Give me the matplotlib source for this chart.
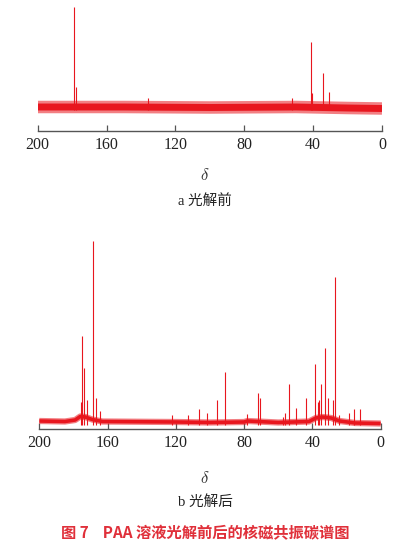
import matplotlib
matplotlib.use("Agg")
import matplotlib.pyplot as plt
import numpy as np

plt.rcParams["mathtext.fontset"] = "cm"

# ---------------- data ----------------
tick_values = [200, 160, 120, 80, 40, 0]
tick_labels = ["200", "160", "120", "80", "40", "0"]

# panel a (before photolysis): baseline level and peak tops (arbitrary intensity)
a_base_ppm = [200, 150, 100, 50, 20, 0]
a_base_lvl = [0.0, 0.0, -0.5, 0.0, -1.0, -1.5]
a_peak_ppm = [178.9, 177.8, 41.1, 40.4, 34.0, 31.0, 136.0, 52.0]
a_peak_top = [100, 20, 65, 14, 34, 15, 9, 9]

# panel b (after photolysis)
b_base_ppm = [200, 185, 179, 176, 173, 169, 163, 120, 100, 80, 78, 60, 42, 38, 34, 29, 24, 15, 0]
b_base_lvl = [1.0, 0.5, 2.0, 5.5, 5.0, 2.5, 0.5, 0.0, -0.5, 0.0, 1.0, -0.5, 0.5, 4.0, 5.0, 4.0, 1.0, -1.0, -1.5]
b_peak_ppm = [175.6, 174.8, 173.6, 171.9, 168.7, 167.0, 164.4, 122.4, 112.7, 106.3,
              101.6, 95.7, 91.0, 78.2, 71.7, 70.5, 57.4, 56.2, 53.6, 49.4,
              43.8, 38.5, 37.0, 36.3, 35.2, 32.9, 30.8, 28.0, 26.8, 24.3,
              18.4, 15.7, 12.2]
b_peak_top = [20, 86, 54, 22, 181, 24, 11, 7, 7, 13,
              9, 22, 50, 8, 29, 24, 5, 9, 38, 14,
              24, 58, 20, 22, 38, 74, 24, 22, 145, 7,
              9, 13, 13]

RED = "#e8161e"
AXC = "#555555"

fig = plt.figure(figsize=(3.93, 5.53), dpi=100)
W, H = 393.0, 553.0


def make_axes(left_px, right_px, top_px, bottom_px):
    return fig.add_axes([left_px / W, 1 - bottom_px / H,
                         (right_px - left_px) / W, (bottom_px - top_px) / H])


def style(ax):
    for s in ["top", "left", "right"]:
        ax.spines[s].set_visible(False)
    ax.spines["bottom"].set_color(AXC)
    ax.spines["bottom"].set_linewidth(1.0)
    ax.set_yticks([])
    ax.set_xlim(200, 0)
    ax.set_xticks(tick_values)
    ax.set_xticklabels(tick_labels, fontfamily="Liberation Serif", fontsize=11.5)
    ax.tick_params(axis="x", direction="in", length=4, width=0.9, color=AXC,
                   pad=4.5, labelcolor="#222222")
    ax.patch.set_alpha(0)


def draw(ax, bppm, blvl, pppm, ptop, band_w, core_w):
    ax.plot(bppm, blvl, color=RED, lw=band_w, alpha=0.55, solid_capstyle="butt")
    ax.plot(bppm, blvl, color=RED, lw=core_w, alpha=1.0, solid_capstyle="butt")
    ax.vlines(pppm, min(blvl) - 1, ptop, color=RED, lw=0.8)


# panel a
axa = make_axes(37.7, 382.0, 4, 131)
draw(axa, a_base_ppm, a_base_lvl, a_peak_ppm, a_peak_top, 9.0, 5.0)
axa.set_ylim(-24, 103)
style(axa)

# panel b
axb = make_axes(39.3, 380.7, 236, 429)
draw(axb, b_base_ppm, b_base_lvl, b_peak_ppm, b_peak_top, 4.5, 2.6)
axb.set_ylim(-7, 186)
style(axb)

fam = ["Liberation Serif", "Noto Sans CJK SC"]
fig.text(205 / W, 1 - 175 / H, r"$\delta$", ha="center", va="center",
         fontsize=12, color="#333333")
fig.text(205 / W, 1 - 201 / H, "a 光解前", ha="center", va="center",
         fontsize=10.5, color="#222222", family=fam)
fig.text(205 / W, 1 - 478 / H, r"$\delta$", ha="center", va="center",
         fontsize=12, color="#333333")
fig.text(205 / W, 1 - 502 / H, "b 光解后", ha="center", va="center",
         fontsize=10.5, color="#222222", family=fam)
fig.text(205 / W, 1 - 533 / H, "图 7    PAA 溶液光解前后的核磁共振碳谱图", ha="center",
         va="center", fontsize=11, color="#e0303a", fontweight="bold",
         family=["Noto Sans CJK SC", "DejaVu Sans"])

fig.savefig("out.png", dpi=100)
